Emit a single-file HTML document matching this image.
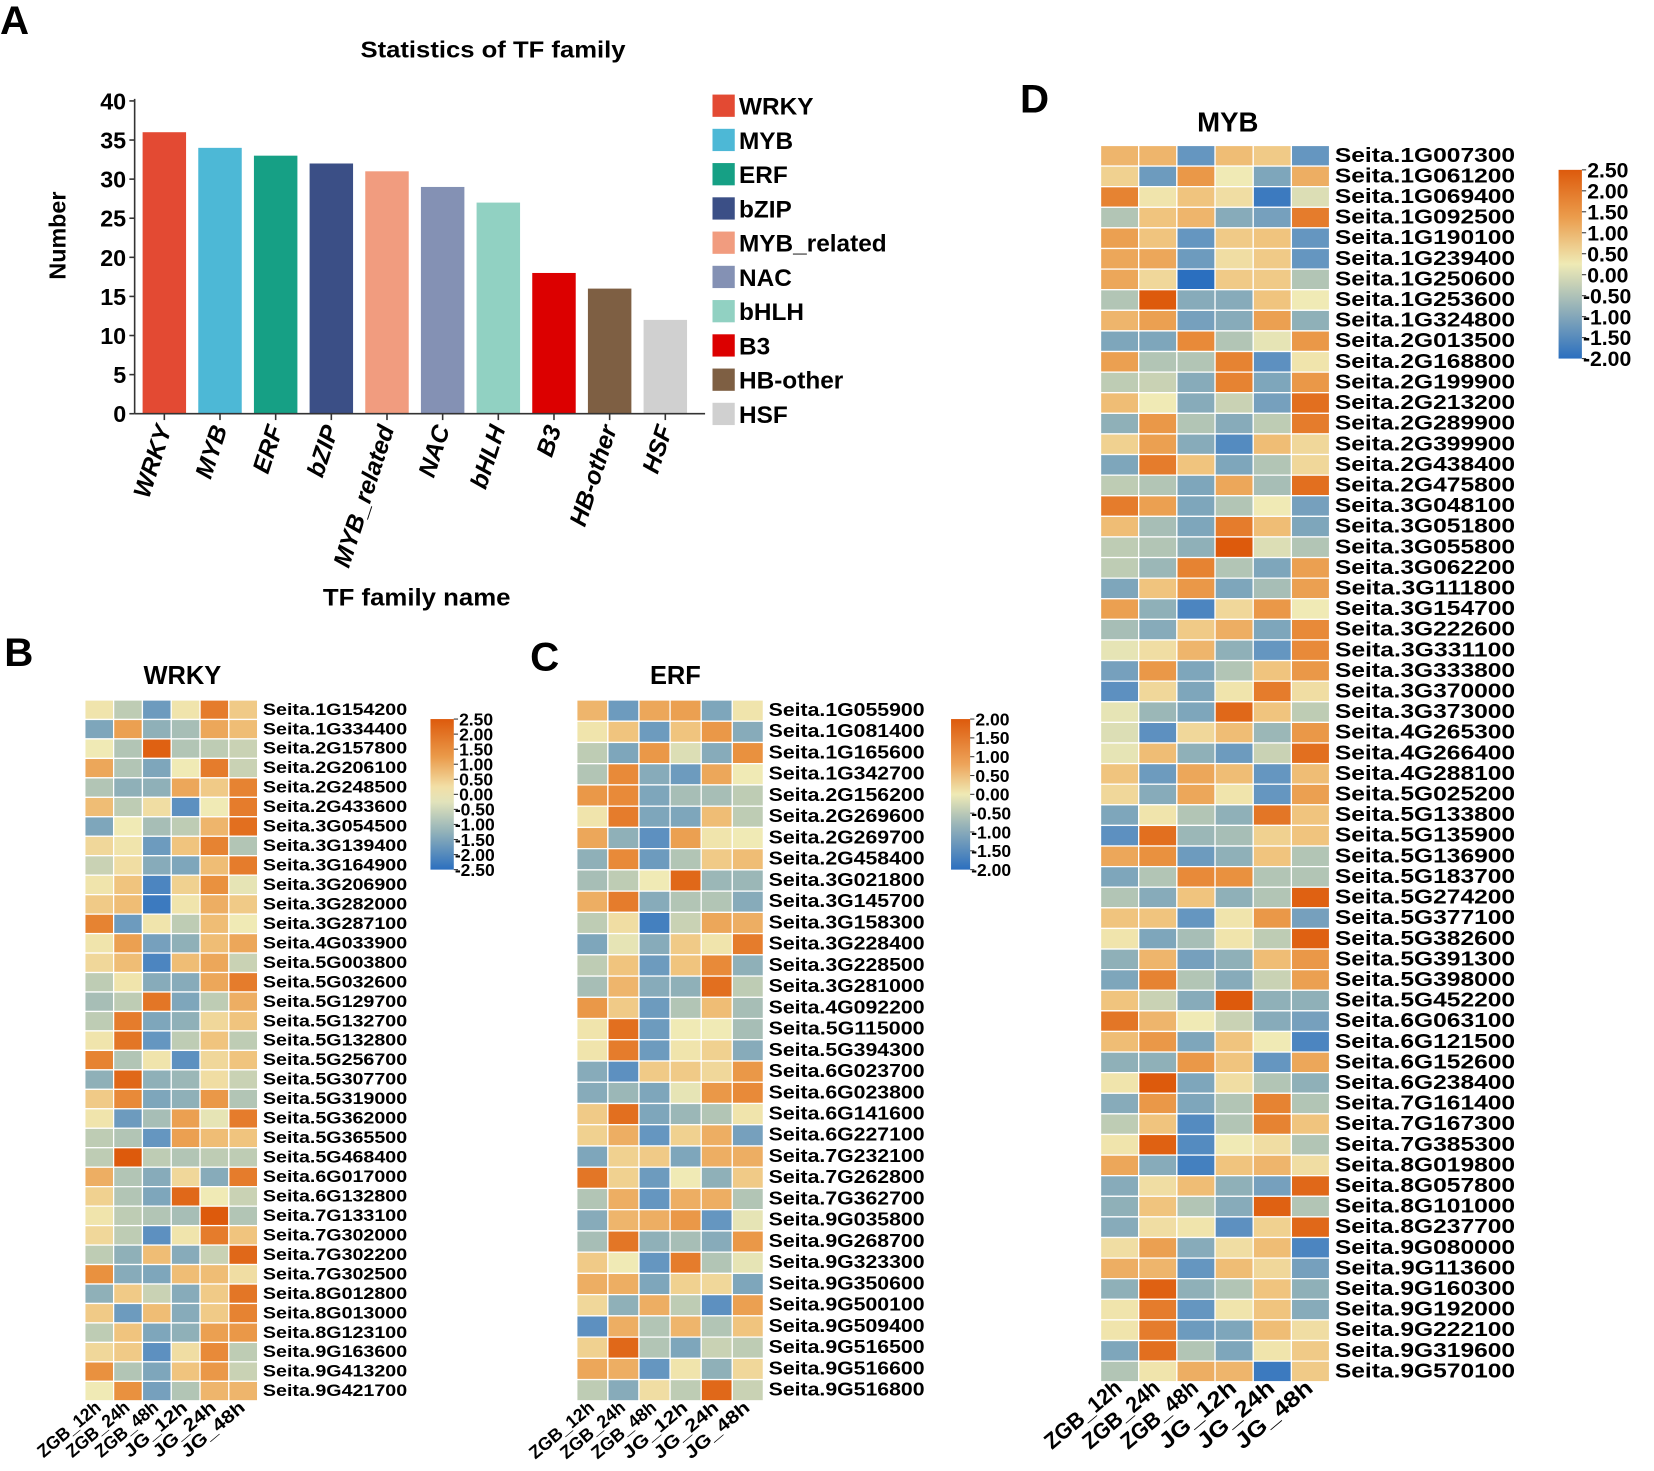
<!DOCTYPE html>
<html><head><meta charset="utf-8"><style>
html,body{margin:0;padding:0;background:#fff;}
svg{display:block;font-family:"Liberation Sans",Arial,sans-serif;font-weight:bold;}
</style></head><body>
<svg id="fig" width="1654" height="1471" viewBox="0 0 1560 1387" xmlns="http://www.w3.org/2000/svg">
<defs>
<linearGradient id="gradB" x1="0" y1="0" x2="0" y2="1">
<stop offset="0" stop-color="#dd5a0c"/><stop offset="0.25" stop-color="#ea9a4a"/><stop offset="0.45" stop-color="#f2dfa6"/><stop offset="0.55" stop-color="#e2e3bb"/><stop offset="0.75" stop-color="#92b2b9"/><stop offset="1" stop-color="#2b6fbf"/>
</linearGradient>
<linearGradient id="gradC" x1="0" y1="0" x2="0" y2="1">
<stop offset="0" stop-color="#dd5a0c"/><stop offset="0.3" stop-color="#eda45a"/><stop offset="0.5" stop-color="#efeab5"/><stop offset="0.7" stop-color="#9ab5b8"/><stop offset="1" stop-color="#2b6fbf"/>
</linearGradient>
<linearGradient id="gradD" x1="0" y1="0" x2="0" y2="1">
<stop offset="0" stop-color="#dd5a0c"/><stop offset="0.25" stop-color="#eb9c4c"/><stop offset="0.5" stop-color="#efeab5"/><stop offset="0.72" stop-color="#9ab5b8"/><stop offset="1" stop-color="#2b6fbf"/>
</linearGradient>
</defs>
<g id="root"></g>
</svg>
<script>
// ---------- Panel A data ----------
const families = ["WRKY","MYB","ERF","bZIP","MYB_related","NAC","bHLH","B3","HB-other","HSF"];
const counts = [36,34,33,32,31,29,27,18,16,12];
const yTicks = [0,5,10,15,20,25,30,35,40];
const barColors = ["#e34a33","#4db8d6","#16a085","#3b4f86","#f19c7f","#8491b4","#91d1c2","#dc0000","#7e5f43","#d0d0d0"];
const timeLabels = ["ZGB_12h","ZGB_24h","ZGB_48h","JG_12h","JG_24h","JG_48h"];

// ---------- WRKY ----------
const wrkyGenes = ["Seita.1G154200","Seita.1G334400","Seita.2G157800","Seita.2G206100","Seita.2G248500","Seita.2G433600","Seita.3G054500","Seita.3G139400","Seita.3G164900","Seita.3G206900","Seita.3G282000","Seita.3G287100","Seita.4G033900","Seita.5G003800","Seita.5G032600","Seita.5G129700","Seita.5G132700","Seita.5G132800","Seita.5G256700","Seita.5G307700","Seita.5G319000","Seita.5G362000","Seita.5G365500","Seita.5G468400","Seita.6G017000","Seita.6G132800","Seita.7G133100","Seita.7G302000","Seita.7G302200","Seita.7G302500","Seita.8G012800","Seita.8G013000","Seita.8G123100","Seita.9G163600","Seita.9G413200","Seita.9G421700"];
const wrkyValues = [
[0.2,-0.4,-1.2,0.2,1.7,0.6],[-1.0,1.2,-0.8,-0.6,1.1,0.8],[0.1,-0.5,2.1,-0.5,-0.4,-0.3],[1.1,-0.5,-1.0,0.1,1.7,-0.3],
[-0.5,-0.8,-0.8,1.1,0.6,1.6],[0.8,-0.4,0.3,-1.4,0.1,1.7],[-1.0,0.1,-0.6,-0.4,0.9,1.9],[0.4,0.2,-1.2,0.7,1.6,-0.5],
[-0.3,0.3,-0.9,-1.0,0.8,1.7],[0.2,0.7,-1.6,0.5,1.4,0.0],[0.6,0.8,-1.8,0.2,1.0,0.6],[1.6,-1.2,0.2,-0.4,0.8,0.1],
[0.2,1.2,-1.1,-0.8,0.8,1.1],[0.4,0.8,-1.6,0.8,1.1,-0.3],[-0.4,0.2,-0.9,-0.9,1.1,1.7],[-0.6,-0.4,1.8,-1.0,-0.4,1.0],
[-0.4,1.7,-1.0,-0.8,0.4,0.7],[0.2,1.8,-1.3,-0.4,0.7,-0.4],[1.6,-0.5,0.2,-1.4,0.4,0.7],[-0.8,2.0,-0.8,-0.7,0.3,-0.3],
[0.6,1.5,-1.0,-0.8,1.3,-0.5],[0.2,-1.2,-0.6,1.2,0.0,1.7],[-0.4,-0.5,-1.3,1.2,0.8,0.7],[-0.4,2.2,-0.4,-0.5,-0.4,-0.4],
[1.0,-0.5,-0.9,0.4,-0.9,1.7],[0.5,-0.5,-1.0,2.0,0.1,-0.3],[0.2,-0.4,-0.5,-0.6,2.2,-0.5],[0.4,-0.4,-1.4,0.2,1.7,0.7],
[-0.4,-0.8,0.8,-0.9,-0.3,2.0],[1.4,-0.9,-1.0,0.8,0.8,0.3],[-0.8,0.6,-0.3,-0.9,0.6,1.8],[0.6,-1.2,0.8,-0.9,0.6,1.6],
[-0.4,0.7,-1.0,-0.8,1.2,1.3],[0.4,0.6,-1.4,0.3,1.5,-0.4],[1.4,-0.5,-1.0,0.7,1.3,-0.3],[0.1,1.4,-1.1,-0.5,0.9,0.9]];
const wrkyScale = ["2.50","2.00","1.50","1.00","0.50","0.00","-0.50","-1.00","-1.50","-2.00","-2.50"];

// ---------- ERF ----------
const erfGenes = ["Seita.1G055900","Seita.1G081400","Seita.1G165600","Seita.1G342700","Seita.2G156200","Seita.2G269600","Seita.2G269700","Seita.2G458400","Seita.3G021800","Seita.3G145700","Seita.3G158300","Seita.3G228400","Seita.3G228500","Seita.3G281000","Seita.4G092200","Seita.5G115000","Seita.5G394300","Seita.6G023700","Seita.6G023800","Seita.6G141600","Seita.6G227100","Seita.7G232100","Seita.7G262800","Seita.7G362700","Seita.9G035800","Seita.9G268700","Seita.9G323300","Seita.9G350600","Seita.9G500100","Seita.9G509400","Seita.9G516500","Seita.9G516600","Seita.9G516800"];
const erfValues = [
[0.9,-1.2,1.1,1.2,-1.0,0.2],[0.2,0.7,-1.2,0.7,1.3,-0.9],[-0.4,-1.0,1.3,-0.1,-0.9,1.4],[-0.5,1.5,-0.9,-1.2,1.1,0.1],
[1.3,1.5,-1.0,-0.6,-0.6,-0.4],[0.2,1.7,-1.0,-1.0,0.8,-0.4],[1.1,-0.8,-1.4,1.2,0.2,0.1],[-0.8,1.5,-1.2,-0.5,0.6,0.8],
[-0.6,-0.4,0.1,2.0,-0.7,-0.7],[1.0,1.7,-0.9,-0.5,-0.5,-0.9],[-0.4,0.3,-1.7,-0.3,1.1,1.0],[-1.0,0.0,-0.9,0.6,0.2,1.7],
[-0.4,0.7,-1.2,0.7,1.5,-0.8],[-0.6,0.9,-0.9,-0.8,1.9,-0.4],[1.3,0.6,-1.2,-0.5,0.8,-0.6],[0.2,1.9,-1.2,0.1,0.1,-0.6],
[0.2,1.7,-1.2,0.2,0.5,-0.9],[-0.9,-1.4,0.6,0.6,0.4,1.3],[-0.9,-0.7,-1.0,0.0,1.3,1.5],[0.6,1.9,-1.0,-0.7,-0.5,0.2],
[0.5,1.0,-1.3,0.5,1.0,-1.1],[-1.0,0.5,0.6,-1.0,1.0,1.0],[1.8,0.5,-1.2,0.1,-0.8,0.6],[-0.5,1.0,-1.3,1.0,1.0,-0.5],
[-0.9,0.9,1.0,1.3,-1.3,0.0],[-0.6,1.8,-0.8,-0.6,-0.9,1.3],[0.6,0.1,-1.3,1.7,-0.5,0.0],[1.0,1.0,-1.0,0.5,0.4,-1.0],
[0.4,-0.8,1.0,-0.4,-1.4,1.2],[-1.4,1.0,-0.5,0.9,-0.5,0.7],[0.5,2.0,-0.5,-1.0,-0.3,-0.4],[1.1,1.0,-1.3,0.2,-0.8,0.4],
[-0.4,-0.9,0.3,-0.4,2.0,-0.3]];
const erfScale = ["2.00","1.50","1.00","0.50","0.00","-0.50","-1.00","-1.50","-2.00"];

// ---------- MYB ----------
const mybGenes = ["Seita.1G007300","Seita.1G061200","Seita.1G069400","Seita.1G092500","Seita.1G190100","Seita.1G239400","Seita.1G250600","Seita.1G253600","Seita.1G324800","Seita.2G013500","Seita.2G168800","Seita.2G199900","Seita.2G213200","Seita.2G289900","Seita.2G399900","Seita.2G438400","Seita.2G475800","Seita.3G048100","Seita.3G051800","Seita.3G055800","Seita.3G062200","Seita.3G111800","Seita.3G154700","Seita.3G222600","Seita.3G331100","Seita.3G333800","Seita.3G370000","Seita.3G373000","Seita.4G265300","Seita.4G266400","Seita.4G288100","Seita.5G025200","Seita.5G133800","Seita.5G135900","Seita.5G136900","Seita.5G183700","Seita.5G274200","Seita.5G377100","Seita.5G382600","Seita.5G391300","Seita.5G398000","Seita.5G452200","Seita.6G063100","Seita.6G121500","Seita.6G152600","Seita.6G238400","Seita.7G161400","Seita.7G167300","Seita.7G385300","Seita.8G019800","Seita.8G057800","Seita.8G101000","Seita.8G237700","Seita.9G080000","Seita.9G113600","Seita.9G160300","Seita.9G192000","Seita.9G222100","Seita.9G319600","Seita.9G570100"];
const mybValues = [
[0.9,0.9,-1.3,0.8,0.6,-1.3],[0.5,-1.2,1.3,0.1,-1.0,1.0],[1.6,0.2,0.7,0.3,-1.8,-0.1],[-0.5,0.7,0.9,-0.9,-1.1,1.7],
[1.2,0.7,-1.3,0.6,0.7,-1.3],[1.1,1.1,-1.2,0.3,0.6,-1.3],[1.1,0.4,-2.0,0.6,0.6,-0.5],[-0.5,2.2,-0.9,-0.9,0.7,0.1],
[0.9,1.2,-1.1,-0.9,1.2,-0.8],[-1.0,-1.0,1.5,-0.5,0.0,1.3],[1.2,-0.5,-0.5,1.6,-1.4,0.2],[-0.4,-0.3,-0.9,1.6,-1.0,1.3],
[0.8,0.1,-0.9,-0.3,-1.1,1.9],[-0.8,1.3,-0.5,-0.9,-0.4,1.7],[0.5,1.2,-0.9,-1.5,0.8,0.4],[-1.0,1.7,0.7,-1.0,-0.5,0.4],
[-0.4,-0.5,-1.0,1.1,-0.6,1.9],[1.7,1.2,-1.0,-0.5,0.1,-1.1],[0.8,-0.6,-1.0,1.7,0.8,-1.0],[-0.4,-0.5,-0.8,2.3,-0.1,-0.5],
[-0.4,-0.7,1.6,-0.5,-1.0,1.2],[-1.0,0.7,1.3,-1.0,-0.6,1.2],[1.2,-0.8,-1.6,0.4,1.3,0.1],[-0.6,-0.9,0.6,1.0,-1.0,1.5],
[0.0,0.3,0.9,-0.8,-1.3,1.5],[-1.1,1.3,-1.0,-0.5,0.7,1.3],[-1.4,0.4,-1.0,0.2,1.7,0.3],[0.0,-0.7,-1.0,2.0,0.7,-0.4],
[-0.1,-1.4,0.4,0.8,-0.7,1.3],[0.0,0.8,-0.8,-1.2,-0.3,1.9],[0.7,-1.2,1.1,0.8,-1.3,0.8],[0.4,-0.9,1.1,0.2,-1.3,1.2],
[-1.0,0.2,-0.5,-0.8,1.8,0.7],[-1.4,1.9,-0.7,-0.6,0.5,0.7],[1.1,1.4,-1.2,-0.8,0.7,-0.5],[-1.0,-0.5,1.5,1.4,-0.5,-0.5],
[-0.5,-0.9,0.7,-0.8,-0.5,2.1],[0.7,0.7,-1.3,0.2,1.3,-1.1],[0.2,-1.0,-0.6,0.2,-0.4,2.1],[-0.8,0.9,-1.1,-0.8,0.8,1.3],
[-1.0,1.6,-0.5,-0.9,-0.3,1.2],[0.7,-0.3,-0.9,2.2,-0.8,-0.8],[1.8,0.9,0.1,-0.3,-0.9,-1.1],[0.8,1.3,-1.0,0.7,0.1,-1.6],
[-0.8,-0.8,1.3,0.7,-1.3,1.1],[0.2,2.2,-1.0,0.3,-0.5,-0.8],[-0.9,1.3,-1.0,-0.5,1.6,-0.5],[-0.4,0.7,-1.5,-0.5,1.6,0.7],
[0.2,2.1,-1.5,0.1,0.3,-0.5],[1.1,-0.9,-1.7,0.7,0.9,0.3],[-0.9,0.3,0.8,-0.8,-1.1,2.0],[-0.8,0.7,-0.5,-0.9,2.1,-0.5],
[-0.9,0.3,0.2,-1.4,0.5,2.0],[0.3,1.2,-0.9,0.3,0.8,-1.6],[1.0,0.9,-1.3,0.8,0.4,-1.1],[-0.8,2.1,-0.8,-0.5,0.7,-0.8],
[0.2,1.7,-1.3,0.2,0.7,-0.9],[0.2,1.7,-1.2,-1.0,0.8,0.3],[-1.0,1.9,-0.5,-1.0,0.2,0.6],[-0.5,0.2,1.0,0.9,-1.8,0.6]];
const mybScale = ["2.50","2.00","1.50","1.00","0.50","0.00","-0.50","-1.00","-1.50","-2.00"];

const NS = "http://www.w3.org/2000/svg";
const root = document.getElementById('root');
function mk(tag, attrs, parent, txt){
  const e = document.createElementNS(NS, tag);
  for (const k in attrs) e.setAttribute(k, attrs[k]);
  if (txt !== undefined) e.textContent = txt;
  (parent || root).appendChild(e);
  return e;
}
const cstops = [[-2.0,[43,111,191]],[-1.3,[101,150,192]],[-0.8,[143,176,184]],[-0.35,[196,207,180]],[0.1,[240,234,181]],[0.7,[240,196,126]],[1.4,[233,145,63]],[2.2,[221,90,12]]];
function color(v){
  if (v <= cstops[0][0]) return 'rgb('+cstops[0][1]+')';
  for (let i=1;i<cstops.length;i++){
    if (v <= cstops[i][0]){
      const a=cstops[i-1], b=cstops[i], t=(v-a[0])/(b[0]-a[0]);
      return 'rgb('+a[1].map((c,j)=>Math.round(c+(b[1][j]-c)*t)).join(',')+')';
    }
  }
  return 'rgb('+cstops[cstops.length-1][1]+')';
}

const letters = [["A",0,32],["B",4,628],["C",500,632],["D",962,106]];
letters.forEach(l=>{
  const t = mk('text',{x:l[1],y:l[2],'font-size':38,fill:'#000'},root,l[0]);
  
  
});

// ---------- Bar chart ----------
const gA = mk('g',{});


const ax = {x0:127, x1:665, y0:390, yTop:95, max:40, first:155, step:52.5, bw:41};
const yS = v => ax.y0 - (v/ax.max)*(ax.y0-ax.yTop);
const xS = i => ax.first + i*ax.step;
let t = mk('text',{x:465,y:54,'text-anchor':'middle','font-size':22,textLength:250,lengthAdjust:'spacingAndGlyphs'},gA,'Statistics of TF family');
 
families.forEach((f,i)=>{
  const r = mk('rect',{x:xS(i)-ax.bw/2,y:yS(counts[i]),width:ax.bw,height:ax.y0-yS(counts[i]),fill:barColors[i]},gA);
  
  
  mk('line',{x1:xS(i),x2:xS(i),y1:ax.y0,y2:ax.y0+6,stroke:'#333','stroke-width':1.5},gA);
  const lx = xS(i)+7, ly = ax.y0+14;
  const tl = mk('text',{x:lx,y:ly,'text-anchor':'end','font-size':23,'font-style':'italic',transform:`rotate(-72 ${lx} ${ly})`},gA,f);
  
  
});
mk('line',{x1:ax.x0,x2:ax.x0,y1:ax.yTop-2,y2:ax.y0,stroke:'#333','stroke-width':1.5},gA);
mk('line',{x1:ax.x0,x2:ax.x1,y1:ax.y0,y2:ax.y0,stroke:'#333','stroke-width':1.5},gA);
yTicks.forEach(v=>{
  mk('line',{x1:ax.x0-5,x2:ax.x0,y1:yS(v),y2:yS(v),stroke:'#333','stroke-width':1.5},gA);
  const tt = mk('text',{x:ax.x0-8,y:yS(v)+8,'text-anchor':'end','font-size':22},gA,String(v));
  
  
});
t = mk('text',{x:62,y:222,'text-anchor':'middle','font-size':22,transform:'rotate(-90 62 222)'},gA,'Number');
 
t = mk('text',{x:393,y:571,'text-anchor':'middle','font-size':23,textLength:177,lengthAdjust:'spacingAndGlyphs'},gA,'TF family name');
 
families.forEach((f,i)=>{
  const y = 89 + i*32.3;
  const s = mk('rect',{x:672,y:y,width:21,height:21,fill:barColors[i]},gA);
  
  
  const lt = mk('text',{x:697,y:y+19,'font-size':23},gA,f);
  
  
});

// ---------- Heatmap builder ----------
function heatmap(cfg){
  const g = mk('g',{});
  
  
  const n = cfg.genes.length;
  const cw = (cfg.x1-cfg.x0)/6, rh = (cfg.y1-cfg.y0)/n;
  const tt = mk('text',{x:cfg.titleX,y:cfg.titleY,'text-anchor':'middle','font-size':cfg.titleSize},g,cfg.title);
  
  
  cfg.values.forEach((row,ri)=>{
    row.forEach((v,ci)=>{
      const c = mk('rect',{x:cfg.x0+ci*cw,y:cfg.y0+ri*rh,width:cw,height:rh,fill:color(v),stroke:'#fff','stroke-width':1.2},g);
      
      
    });
    const lab = mk('text',{x:cfg.x1+5,y:cfg.y0+(ri+0.5)*rh+cfg.fs*0.3,'font-size':cfg.fs,textLength:cfg.labW,lengthAdjust:'spacingAndGlyphs'},g,cfg.genes[ri]);
    
    
  });
  timeLabels.forEach((tl,ci)=>{
    const lx = cfg.x0+(ci+0.6)*cw, ly = cfg.y1+8;
    const e = mk('text',{x:lx,y:ly,'text-anchor':'end','font-size':cfg.colFs,transform:`rotate(-40 ${lx} ${ly})`,textLength:cfg.colW,lengthAdjust:'spacingAndGlyphs'},g,tl);
    
    
  });
  const cb = mk('rect',{x:cfg.cb.x,y:cfg.cb.y0,width:cfg.cb.w,height:cfg.cb.y1-cfg.cb.y0,fill:`url(#${cfg.cb.grad})`},g);
  
  
  const m = cfg.scale.length;
  cfg.scale.forEach((s,i)=>{
    const y = cfg.cb.y0 + i*(cfg.cb.y1-cfg.cb.y0)/(m-1);
    mk('line',{x1:cfg.cb.x+cfg.cb.w,x2:cfg.cb.x+cfg.cb.w+4,y1:y,y2:y,stroke:'#333','stroke-width':1},g);
    const st = mk('text',{x:cfg.cb.x+cfg.cb.w+(s[0]==='-'?1:5),y:y+cfg.cb.fs*0.36,'font-size':cfg.cb.fs},g,s);
    
    
  });
}
heatmap({name:'wrky-heatmap',title:'WRKY',titleX:172,titleY:645,titleSize:24,genes:wrkyGenes,values:wrkyValues,
  x0:80,x1:243,y0:660,y1:1321,fs:16,labW:136,colFs:17,colW:72,
  cb:{x:406,w:22,y0:678,y1:820,grad:'gradB',fs:16.5},scale:wrkyScale});
heatmap({name:'erf-heatmap',title:'ERF',titleX:637,titleY:645,titleSize:24,genes:erfGenes,values:erfValues,
  x0:544,x1:720,y0:660,y1:1321,fs:17,labW:147,colFs:17,colW:74,
  cb:{x:897,w:18,y0:678,y1:820,grad:'gradC',fs:16.5},scale:erfScale});
heatmap({name:'myb-heatmap',title:'MYB',titleX:1158,titleY:124,titleSize:26,genes:mybGenes,values:mybValues,
  x0:1038,x1:1254,y0:137,y1:1303,fs:19,labW:170,colFs:21,colW:88,
  cb:{x:1470,w:22,y0:160,y1:338,grad:'gradD',fs:20},scale:mybScale});
</script>
</body></html>
